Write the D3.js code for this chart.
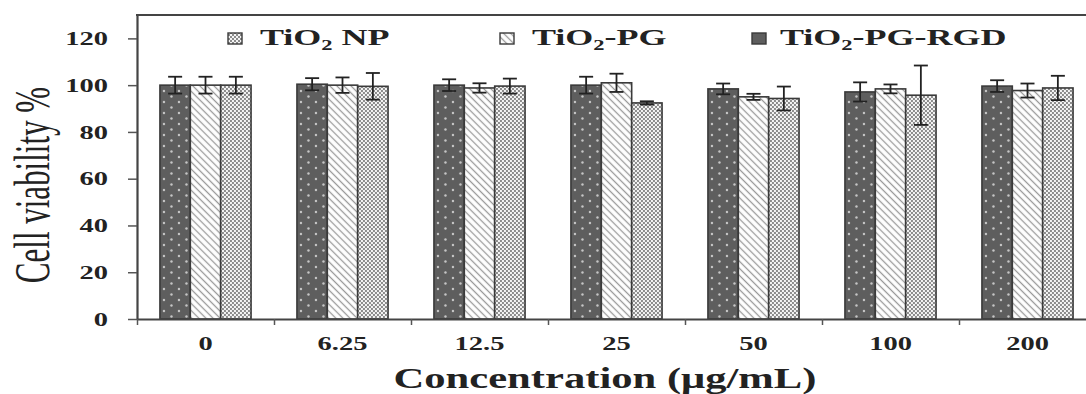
<!DOCTYPE html>
<html>
<head>
<meta charset="utf-8">
<script src="https://cdn.jsdelivr.net/npm/d3@7"></script>
<style>
  html, body { margin: 0; padding: 0; background: #fff; }
  svg { display: block; }
  text { font-family: "Liberation Serif", "Times New Roman", serif; fill: #222; }
</style>
</head>
<body>
<svg id="chart" width="1086" height="394"></svg>
<script>
// ---- data ----
const categories = ["0", "6.25", "12.5", "25", "50", "100", "200"];
const seriesKeys = ["NP", "PG", "RGD"];          // legend order
const barOrder   = ["RGD", "PG", "NP"];          // order inside each group
const npMean  = [100, 99.5, 99.6, 92.4, 94.3, 95.7, 98.8];
const npErr   = [3.6, 5.7, 3.2, 0.7, 5.1, 12.7, 5.2];
const pgMean  = [100, 100, 98.8, 101, 95, 98.4, 97.7];
const pgErr   = [3.6, 3.3, 2.0, 3.9, 1.3, 1.9, 3.0];
const rgdMean = [100, 100.4, 100, 100, 98.4, 97.1, 99.6];
const rgdErr  = [3.6, 2.6, 2.5, 3.6, 2.3, 4.1, 2.5];
const yTicks  = [0, 20, 40, 60, 80, 100, 120];
const xTitle = "Concentration (μg/mL)";
const yTitle = "Cell viability %";

const means = { NP: npMean, PG: pgMean, RGD: rgdMean };
const errs  = { NP: npErr,  PG: pgErr,  RGD: rgdErr };

const svg = d3.select("#chart");
const SX = 1.5; // horizontal stretch of the original lettering

// ---- patterns ----
const defs = svg.append("defs");
const pDot = defs.append("pattern").attr("id", "pat-RGD")
  .attr("patternUnits", "userSpaceOnUse").attr("width", 15).attr("height", 11);
pDot.append("rect").attr("width", 15).attr("height", 11).attr("fill", "#5e5e5e");
pDot.append("circle").attr("cx", 4).attr("cy", 3).attr("r", 1.2).attr("fill", "#c8c8c8");
pDot.append("circle").attr("cx", 11.5).attr("cy", 8.5).attr("r", 1.2).attr("fill", "#c8c8c8");

const pHatch = defs.append("pattern").attr("id", "pat-PG")
  .attr("patternUnits", "userSpaceOnUse").attr("width", 5).attr("height", 5)
  .attr("patternTransform", "rotate(45)");
pHatch.append("rect").attr("width", 5).attr("height", 5).attr("fill", "#fff");
pHatch.append("line").attr("x1", 0).attr("y1", 2.5).attr("x2", 5).attr("y2", 2.5)
  .attr("stroke", "#9a9a9a").attr("stroke-width", 1.3);

const pCheck = defs.append("pattern").attr("id", "pat-NP")
  .attr("patternUnits", "userSpaceOnUse").attr("width", 4).attr("height", 4);
pCheck.append("rect").attr("width", 4).attr("height", 4).attr("fill", "#8c8c8c");
pCheck.append("rect").attr("x", 0).attr("y", 0).attr("width", 2).attr("height", 2).attr("fill", "#f4f4f4");
pCheck.append("rect").attr("x", 2).attr("y", 2).attr("width", 2).attr("height", 2).attr("fill", "#f4f4f4");

// ---- scales ----
const plotLeft = 137, plotRight = 1096, plotTop = 15, plotBottom = 319;
const x0 = d3.scaleBand().domain(categories).range([plotLeft, plotRight])
  .paddingInner(0.335).paddingOuter(0.1675);
const x1 = d3.scaleBand().domain(barOrder).range([0, x0.bandwidth()]);
const y = d3.scaleLinear().domain([0, 130]).range([plotBottom, plotTop]);
const xb = d3.scaleLinear().domain([0, categories.length]).range([plotLeft, plotRight]);

// ---- bars ----
const groups = svg.append("g").selectAll("g").data(categories).join("g")
  .attr("transform", d => `translate(${x0(d)},0)`);

groups.selectAll("rect").data((c, i) => barOrder.map(k => ({ k, v: means[k][i] })))
  .join("rect")
  .attr("x", d => x1(d.k))
  .attr("y", d => y(d.v))
  .attr("width", x1.bandwidth())
  .attr("height", d => y(0) - y(d.v))
  .attr("fill", d => `url(#pat-${d.k})`)
  .attr("stroke", "#3a3a3a").attr("stroke-width", 1.6);

// ---- error bars ----
const eb = groups.selectAll("g.err").data((c, i) => barOrder.map(k => ({ k, v: means[k][i], e: errs[k][i] })))
  .join("g").attr("class", "err")
  .attr("transform", d => `translate(${x1(d.k) + x1.bandwidth() / 2},0)`);
eb.append("line").attr("x1", 0).attr("x2", 0)
  .attr("y1", d => y(d.v + d.e)).attr("y2", d => y(d.v - d.e))
  .attr("stroke", "#222").attr("stroke-width", 1.8);
eb.append("line").attr("x1", -7).attr("x2", 7)
  .attr("y1", d => y(d.v + d.e)).attr("y2", d => y(d.v + d.e))
  .attr("stroke", "#222").attr("stroke-width", 1.8);
eb.append("line").attr("x1", -7).attr("x2", 7)
  .attr("y1", d => y(d.v - d.e)).attr("y2", d => y(d.v - d.e))
  .attr("stroke", "#222").attr("stroke-width", 1.8);

// ---- axes ----
const yAxis = svg.append("g").attr("transform", `translate(${plotLeft},0)`)
  .call(d3.axisLeft(y).tickValues(yTicks).tickSize(9).tickSizeOuter(0).tickPadding(20));
yAxis.select(".domain").attr("stroke", "#444").attr("stroke-width", 2.2);
yAxis.selectAll(".tick line").attr("stroke", "#555").attr("stroke-width", 1.5);
yAxis.selectAll(".tick text")
  .attr("font-size", 19).attr("font-weight", "bold").attr("fill", "#222")
  .attr("x", -29 / SX).attr("transform", `scale(${SX},1)`);

const xTickAxis = svg.append("g").attr("transform", `translate(0,${plotBottom})`)
  .call(d3.axisBottom(xb).tickValues(d3.range(0, categories.length + 1)).tickSize(6).tickSizeOuter(0).tickFormat(""));
xTickAxis.select(".domain").attr("stroke", "#444").attr("stroke-width", 2.2);
xTickAxis.selectAll(".tick line").attr("stroke", "#555").attr("stroke-width", 1.5);

const xAxis = svg.append("g").attr("transform", `translate(0,${plotBottom})`)
  .call(d3.axisBottom(x0).tickSize(0).tickPadding(18));
xAxis.select(".domain").remove();
xAxis.selectAll(".tick text")
  .attr("font-size", 19).attr("font-weight", "bold").attr("fill", "#222")
  .attr("transform", `scale(${SX},1)`);

// top border
svg.append("line").attr("x1", plotLeft - 1).attr("x2", 1086).attr("y1", plotTop).attr("y2", plotTop)
  .attr("stroke", "#444").attr("stroke-width", 2.2);

// ---- titles ----
svg.append("text")
  .attr("transform", `translate(605,388) scale(1.47,1)`)
  .attr("text-anchor", "middle").attr("font-size", 29).attr("font-weight", "bold")
  .text(xTitle);

svg.append("text")
  .attr("transform", `translate(49,185) scale(1.65,1) rotate(-90)`)
  .attr("text-anchor", "middle").attr("font-size", 31)
  .text(yTitle);

// ---- legend ----
const legendItems = [
  { k: "NP",  sq: 228, tx: 260, parts: ["TiO", "2", " NP"] },
  { k: "PG",  sq: 500, tx: 532, parts: ["TiO", "2", "-PG"] },
  { k: "RGD", sq: 752, tx: 780, parts: ["TiO", "2", "-PG-RGD"] }
];
const lg = svg.append("g").selectAll("g").data(legendItems).join("g");
lg.append("rect")
  .attr("x", d => d.sq).attr("y", 33).attr("width", 14).attr("height", 11)
  .attr("fill", d => d.k === "RGD" ? "#5e5e5e" : `url(#pat-${d.k})`)
  .attr("stroke", "#3a3a3a").attr("stroke-width", 1.4);
const lt = lg.append("text")
  .attr("transform", d => `translate(${d.tx},45) scale(${SX},1)`)
  .attr("font-size", 24).attr("font-weight", "bold");
lt.append("tspan").text(d => d.parts[0]);
lt.append("tspan").attr("font-size", 15).attr("dy", 5).text(d => d.parts[1]);
lt.append("tspan").attr("dy", -5).text(d => d.parts[2]);
</script>
</body>
</html>
